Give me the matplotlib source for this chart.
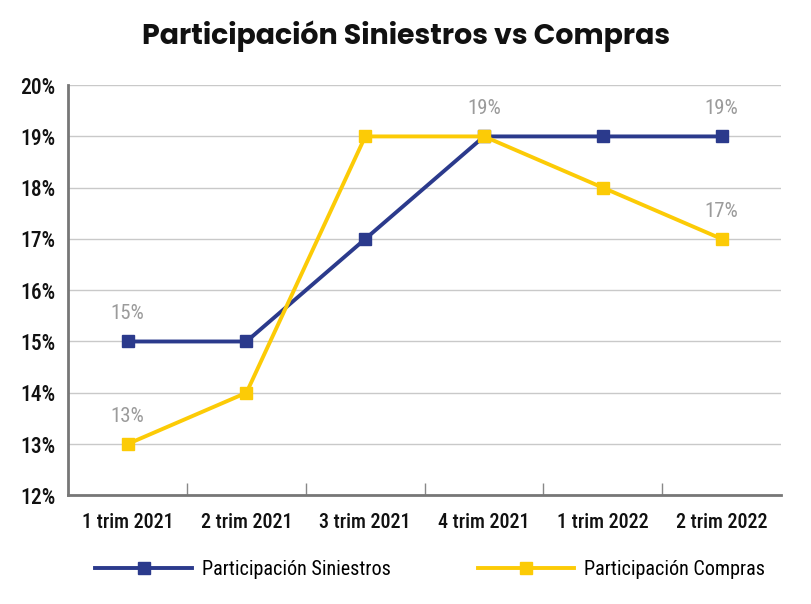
import matplotlib
matplotlib.use("Agg")
import matplotlib.pyplot as plt
from matplotlib import font_manager
from matplotlib.ticker import FuncFormatter

# datos
trimestres = ["1 trim 2021", "2 trim 2021", "3 trim 2021", "4 trim 2021", "1 trim 2022", "2 trim 2022"]
siniestros = [15, 15, 17, 19, 19, 19]
compras = [13, 14, 19, 19, 18, 17]
# puntos con etiqueta (índices)
etiquetas_siniestros = [0, 3, 5]
etiquetas_compras = [0, 5]

AZUL = "#2b3a8c"
AMARILLO = "#fccb06"
GRIS = "#9b9b9b"


def _pick(names):
    fonts = {f.name for f in font_manager.fontManager.ttflist}
    for n in names:
        if n in fonts:
            return n
    return "DejaVu Sans"


cond = _pick(["Roboto Condensed", "Liberation Sans Narrow", "Roboto"])
titlef = _pick(["Poppins", "Montserrat", "Open Sans", "Lato"])

fig = plt.figure(figsize=(8.12, 6.04), dpi=100)
ax = fig.add_axes([0.084, 0.18, 0.878, 0.679])

xs = list(range(len(trimestres)))
ax.plot(xs, siniestros, color=AZUL, lw=2.8, marker="s", ms=8.5, label="Participación Siniestros", zorder=3)
ax.plot(xs, compras, color=AMARILLO, lw=2.8, marker="s", ms=8.5, label="Participación Compras", zorder=3)

for i in etiquetas_siniestros:
    ax.annotate(f"{siniestros[i]}%", (xs[i], siniestros[i]), xytext=(0, 13), textcoords="offset points",
                ha="center", va="bottom", color=GRIS, fontsize=15, family=cond)
for i in etiquetas_compras:
    ax.annotate(f"{compras[i]}%", (xs[i], compras[i]), xytext=(0, 13), textcoords="offset points",
                ha="center", va="bottom", color=GRIS, fontsize=15, family=cond)

ax.set_xlim(-0.5, len(trimestres) - 0.5)
ax.set_ylim(12, 20)
ax.set_yticks(range(12, 21))
ax.yaxis.set_major_formatter(FuncFormatter(lambda v, p: f"{v:.0f}%"))
ax.set_xticks(xs)
ax.set_xticklabels(trimestres)
ax.set_xticks([x + 0.5 for x in xs[:-1]], minor=True)
ax.tick_params(axis="x", which="major", length=0, pad=13)
ax.tick_params(axis="x", which="minor", direction="in", length=9, color="#888888", width=1)
ax.tick_params(axis="y", length=0, pad=9)
for lab in ax.get_xticklabels():
    lab.set_fontfamily(cond)
    lab.set_fontsize(14.5)
    lab.set_fontweight("medium")
    lab.set_color("#111111")
for lab in ax.get_yticklabels():
    lab.set_fontfamily(cond)
    lab.set_fontsize(15.5)
    lab.set_fontweight("medium")
    lab.set_color("#111111")

ax.grid(True, axis="y", color="#c9c9c9", lw=1)
ax.set_axisbelow(True)
for s in ["top", "right"]:
    ax.spines[s].set_visible(False)
for s in ["left", "bottom"]:
    ax.spines[s].set_color("#777777")
    ax.spines[s].set_linewidth(2)

fig.suptitle("Participación Siniestros vs Compras", x=0.5, y=0.966, fontsize=20.5,
             fontweight="bold", family=titlef, color="#111111")

fig.legend(loc="lower center", bbox_to_anchor=(0.53, 0.012), ncol=2, frameon=False,
           handlelength=4.8, handletextpad=0.5, columnspacing=4.3,
           prop={"family": cond, "size": 14.5})

fig.savefig("out.png")
